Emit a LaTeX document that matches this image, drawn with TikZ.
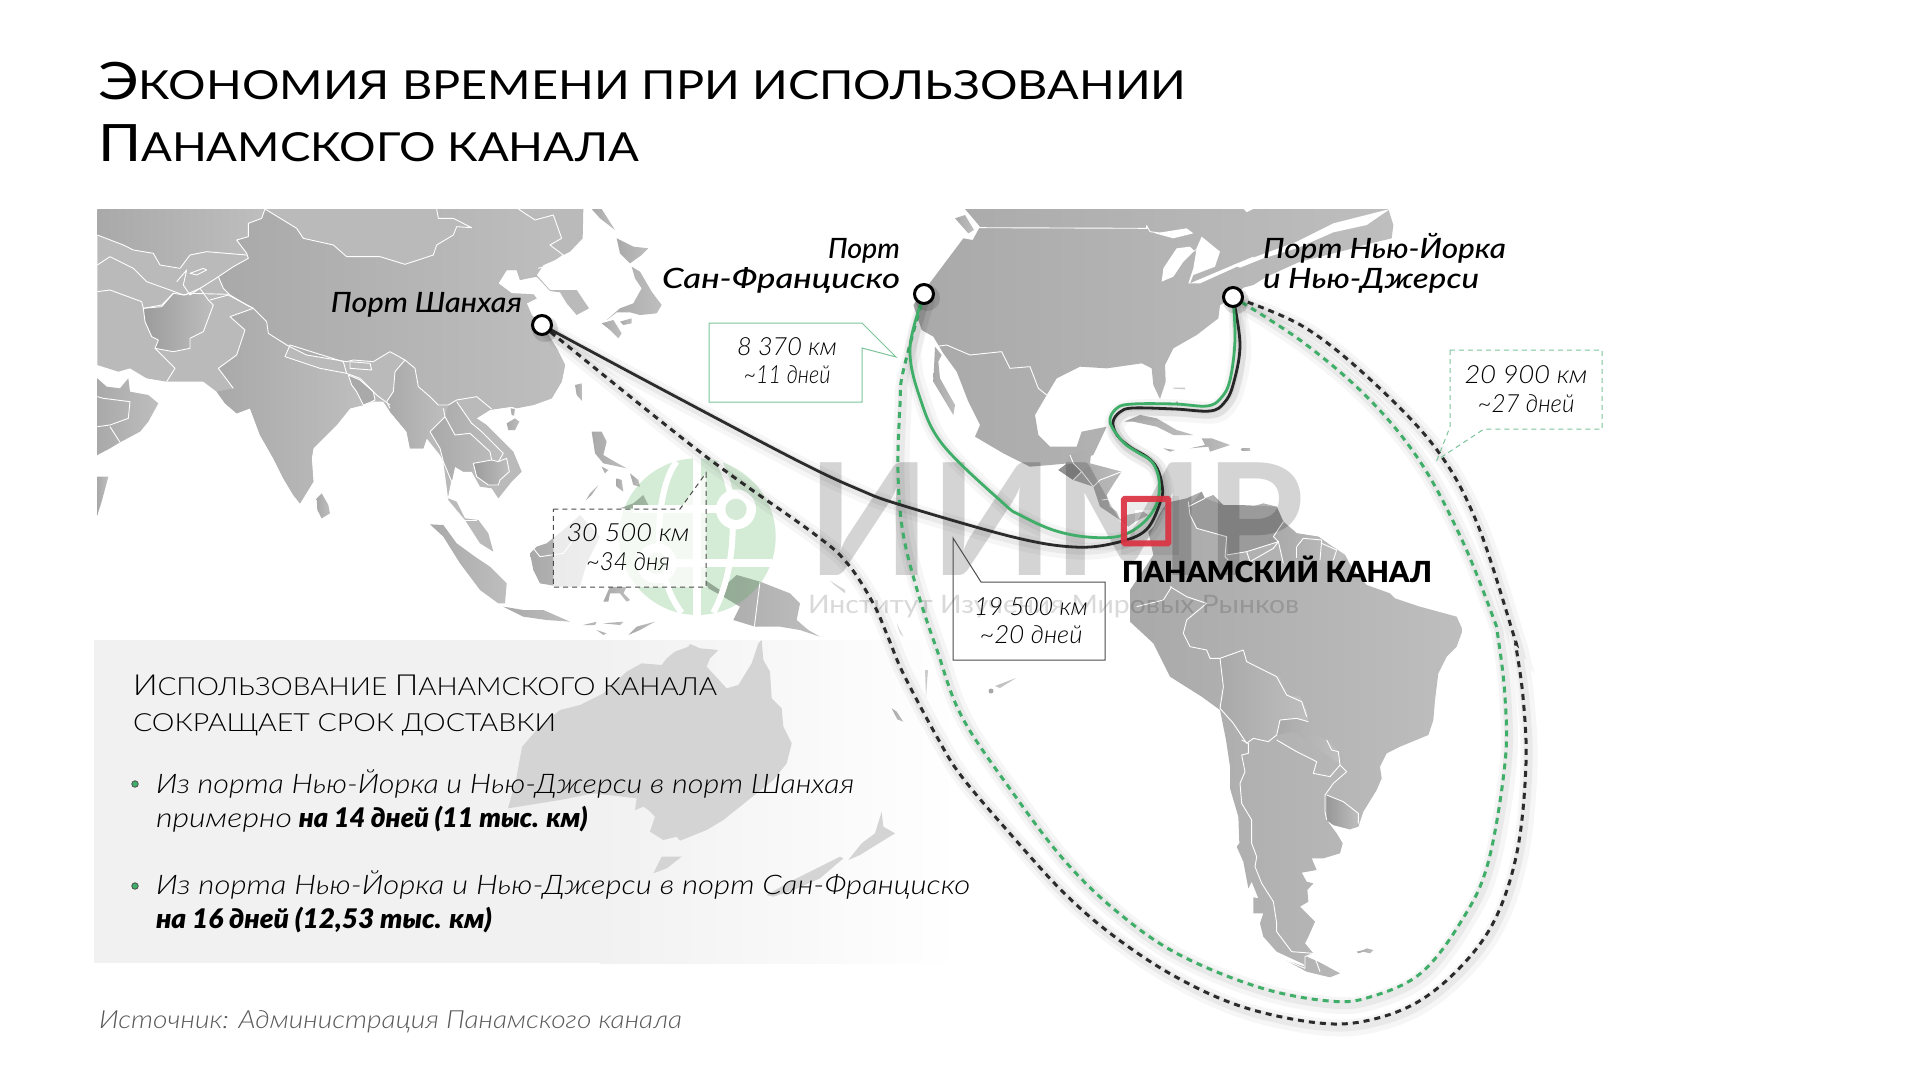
\documentclass[tikz,border=0pt]{standalone}
\usepackage{fontspec}
\usepackage{graphicx}
\setmainfont{Lato}
\newfontfamily\lightf{Lato Light}
\newfontfamily\medf{Lato Medium}
\pgfdeclarelayer{map}
\pgfdeclarelayer{wm}
\pgfdeclarelayer{routes}
\pgfsetlayers{map,wm,routes,main}
\definecolor{mapD}{HTML}{A9A9A9}
\definecolor{mapL}{HTML}{BEBEBE}
\definecolor{mapDk}{HTML}{929292}
\definecolor{rtG}{HTML}{3FAE68}
\definecolor{boxG}{HTML}{7CC49A}
\definecolor{rtK}{HTML}{2B2B2B}
\definecolor{canalR}{HTML}{DC3343}
\definecolor{ausG}{HTML}{D4D4D4}
\definecolor{pan}{HTML}{F1F1F1}
\definecolor{glb}{HTML}{3FA548}
\newcommand\fw[2]{\resizebox{#1pt}{\height}{#2}}
\newcommand\fsz[1]{\fontsize{#1}{#1}\selectfont}
\tikzset{
 land/.style={left color=mapD,right color=mapL,draw=none},
 bord/.style={draw=white,line width=.9pt,line join=round,fill=none},
 txt/.style={inner sep=0pt,outer sep=0pt,anchor=base west,text=black},
 txtr/.style={inner sep=0pt,outer sep=0pt,anchor=base east,text=black},
 txtc/.style={inner sep=0pt,outer sep=0pt,anchor=base,text=black},
 port/.style={circle,draw=black,fill=white,line width=3pt,minimum size=19pt,inner sep=0pt},
 shad/.style={preaction={draw=black,draw opacity=.035,line width=17pt,solid,transform canvas={xshift=3pt,yshift=-4pt}},
              preaction={draw=black,draw opacity=.05,line width=9pt,solid,transform canvas={xshift=2pt,yshift=-3pt}}},
 rK/.style={draw=rtK,line width=2.8pt,line cap=round,shad},
 rG/.style={draw=rtG,line width=2.8pt,line cap=round,shad},
 dK/.style={draw=rtK,line width=3pt,dash pattern=on 6pt off 5pt,shad},
 dG/.style={draw=rtG,line width=3pt,dash pattern=on 6pt off 5pt,shad},
 rt/.style={smooth,tension=.6},
}
\begin{document}
\begin{tikzpicture}[x=1pt,y=-1pt]
\useasboundingbox (0,0) rectangle (1921,1081);

% ---------- map layer
\begin{pgfonlayer}{map}
\fill[white] (0,0) rectangle (1921,1081);
% panel
\fill[pan] (94,640) rectangle (600,963);
\shade[left color=pan,right color=white] (600,640) rectangle (960,963);

% Asia (zoom 6 frame)
\begin{scope}[shift={(90,205)},scale=1/3]
\path[fill=mapL!80!mapD] (22,12)--(1480,12)--(1478,100)--(1440,140)--(1420,150)--(1395,165)--(1360,180)--(1340,210)--(1380,255)--(1420,255)--(1460,255)--(1497,310)--(1460,330)--(1430,295)--(1410,262)--(1380,258)--(1340,215)--(1290,225)--(1280,195)--(1250,195)--(1225,235)--(1265,265)--(1330,268)--(1340,280)--(1310,295)--(1325,330)--(1360,365)--(1400,430)--(1425,480)--(1415,530)--(1385,580)--(1330,600)--(1280,610)--(1265,605)--(1200,615)--(1160,640)--(1190,660)--(1230,700)--(1270,740)--(1295,800)--(1265,830)--(1225,880)--(1205,850)--(1170,845)--(1145,800)--(1120,800)--(1095,785)--(1085,830)--(1075,880)--(1100,890)--(1125,940)--(1165,945)--(1195,985)--(1210,1040)--(1170,1015)--(1125,945)--(1075,885)--(1060,770)--(1050,750)--(1010,700)--(1000,730)--(960,730)--(950,680)--(900,620)--(880,590)--(850,590)--(820,600)--(780,610)--(740,660)--(670,730)--(665,760)--(670,830)--(630,895)--(610,870)--(580,820)--(550,760)--(510,690)--(480,610)--(440,625)--(405,595)--(380,560)--(340,530)--(230,530)--(170,520)--(120,490)--(85,500)--(22,480)--cycle;
% China
\path[land] (525,12)--(515,40)--(475,55)--(475,95)--(440,105)--(470,145)--(475,160)--(430,185)--(385,215)--(400,250)--(420,270)--(470,300)--(490,310)--(530,350)--(535,385)--(590,420)--(650,450)--(770,470)--(790,465)--(850,470)--(900,440)--(945,465)--(975,490)--(985,545)--(1020,575)--(1045,600)--(1075,600)--(1100,585)--(1160,575)--(1205,612)--(1265,605)--(1330,600)--(1385,580)--(1415,530)--(1425,480)--(1400,430)--(1360,365)--(1325,330)--(1310,295)--(1340,280)--(1330,268)--(1265,265)--(1225,235)--(1250,195)--(1280,195)--(1290,225)--(1340,210)--(1360,180)--(1420,150)--(1380,120)--(1415,100)--(1390,30)--(1335,45)--(1285,12)--(1040,12)--(1045,40)--(1090,40)--(1145,68)--(1100,65)--(1090,90)--(1040,120)--(1030,150)--(945,178)--(870,155)--(770,155)--(730,120)--(640,100)--(620,70)--cycle;
% India
\path[land] (490,310)--(420,335)--(465,375)--(440,450)--(385,490)--(430,550)--(380,560)--(405,595)--(440,625)--(480,610)--(510,690)--(550,760)--(580,820)--(610,870)--(630,895)--(670,830)--(665,760)--(670,730)--(740,660)--(780,610)--(820,600)--(800,560)--(785,540)--(770,505)--(690,490)--(585,455)--(600,420)--(535,385)--(530,350)--cycle;
% Afghanistan
\path[left color=mapD!92!black,right color=mapL] (160,310)--(215,305)--(250,265)--(285,270)--(330,250)--(355,285)--(370,300)--(355,340)--(340,380)--(300,400)--(300,430)--(250,440)--(195,430)--(205,405)--(185,395)--(165,350)--cycle;
% Kazakhstan shaded
\path[left color=mapD,right color=mapL] (22,90)--(100,120)--(130,135)--(190,145)--(210,180)--(270,190)--(300,150)--(350,140)--(470,150)--(440,105)--(475,95)--(475,55)--(515,40)--(525,12)--(22,12)--cycle;
% Myanmar
\path[land] (945,465)--(915,500)--(910,560)--(890,590)--(900,620)--(950,680)--(960,730)--(1000,730)--(1010,700)--(1020,680)--(1065,635)--(1060,610)--(1045,600)--(1020,575)--(985,545)--(975,490)--cycle;
% Thailand-Laos
\path[land] (1075,600)--(1100,585)--(1145,655)--(1175,680)--(1240,745)--(1225,770)--(1205,765)--(1150,775)--(1145,800)--(1120,800)--(1095,785)--(1085,830)--(1060,770)--(1050,730)--(1020,680)--(1065,635)--cycle;
% Cambodia
\path[left color=mapD!92!black,right color=mapL] (1150,775)--(1205,765)--(1225,770)--(1250,760)--(1258,800)--(1230,825)--(1225,840)--(1195,840)--(1160,815)--cycle;
% Bangladesh
\path[fill=mapD] (775,510)--(810,525)--(850,560)--(855,585)--(845,590)--(820,600)--(800,560)--(785,540)--cycle;
% Arabia
\path[land] (22,520)--(50,545)--(90,550)--(115,520)--(120,560)--(175,570)--(205,595)--(175,650)--(150,680)--(90,712)--(60,730)--(22,750)--cycle;
\path[land] (22,815)--(55,815)--(35,890)--(22,930)--cycle;
% Sri Lanka
\path[land] (680,880)--(695,865)--(715,900)--(720,925)--(695,940)--(682,915)--cycle;
% borders
\draw[bord] (525,12)--(515,40)--(475,55)--(475,95)--(440,105)--(470,145)--(475,160)--(430,185)--(385,215)--(400,250)--(420,270)--(470,300)--(490,310)--(530,350)--(535,385)--(590,420)--(650,450)--(770,470)--(790,465)--(850,470)--(900,440)--(945,465)--(975,490)--(985,545)--(1020,575)--(1045,600)--(1075,600)--(1100,585)--(1160,575)--(1205,612);
\draw[bord] (525,12)--(620,70)--(640,100)--(730,120)--(770,155)--(870,155)--(945,178)--(1030,150)--(1040,120)--(1090,90)--(1100,65)--(1145,68)--(1090,40)--(1045,40)--(1040,12);
\draw[bord] (1285,12)--(1335,45)--(1390,30)--(1415,100)--(1380,120)--(1420,150);
\draw[bord] (22,90)--(100,120)--(130,135)--(190,145)--(210,180)--(270,190)--(300,150)--(350,140)--(470,150);
\draw[bord] (22,180)--(60,155)--(100,175)--(130,190)--(170,230)--(240,255)--(280,270);
\draw[bord] (22,260)--(60,255)--(155,290)--(160,310)--(215,300)--(250,265);
\draw[bord] (160,310)--(215,305)--(250,265)--(285,270)--(330,250)--(355,285)--(370,300)--(355,340)--(340,380)--(300,400)--(300,430)--(250,440)--(195,430)--(205,405)--(185,395)--(165,350)--cycle;
\draw[bord] (490,310)--(420,335)--(465,375)--(440,450)--(385,490)--(430,550);
\draw[bord] (195,430)--(255,490)--(230,530);
\draw[bord] (300,205)--(340,190)--(350,195)--(320,210)--cycle;
\draw[bord] (260,230)--(290,195)--(280,240)--(300,270)--(330,250)--(370,225)--(385,215);
\draw[bord] (280,270)--(300,265)--(415,268);
\draw[bord] (360,285)--(415,270)--(490,310);
\draw[bord] (600,420)--(760,470)--(770,505)--(690,490)--(585,455)--cycle;
\draw[bord] (780,470)--(840,475)--(845,495)--(780,490)--cycle;
\draw[bord] (770,505)--(810,520)--(860,570)--(900,600);
\draw[bord] (775,510)--(810,525)--(850,560)--(855,585)--(845,590)--(820,600)--(800,560)--(785,540)--cycle;
\draw[bord] (945,465)--(915,500)--(910,560)--(890,590)--(900,610);
\draw[bord] (1060,610)--(1065,635)--(1020,680)--(1050,730)--(1060,770)--(1085,830)--(1075,880);
\draw[bord] (1100,590)--(1145,655)--(1175,680)--(1240,745)--(1225,770);
\draw[bord] (1065,635)--(1095,690)--(1140,685)--(1200,740)--(1205,765);
\draw[bord] (1150,775)--(1205,765)--(1225,770)--(1250,760)--(1258,800)--(1230,825)--(1225,840)--(1195,840)--(1160,815)--cycle;
\draw[bord] (1420,150)--(1380,180)--(1345,190);
\draw[bord] (1125,945)--(1160,945);
\draw[bord] (22,575)--(40,580)--(120,590)--(115,640)--(60,660)--(22,665);
\draw[bord] (60,665)--(90,712);
\end{scope}

% Japan etc (zoom 7 frame)
\begin{scope}[shift={(400,205)},scale=1/3]
\path[land] (575,12)--(605,12)--(645,75)--(600,40)--cycle;
\path[land] (650,100)--(700,125)--(745,130)--(725,150)--(690,175)--(660,145)--cycle;
\path[land] (695,185)--(720,200)--(755,260)--(785,300)--(770,325)--(720,330)--(690,322)--(650,322)--(620,345)--(660,310)--(700,295)--(725,250)--(705,220)--cycle;
\path[land] (605,355)--(640,345)--(665,385)--(655,400)--(630,375)--cycle;
\path[land] (660,350)--(695,340)--(695,355)--(670,360)--cycle;
\path[land] (525,540)--(545,535)--(548,590)--(530,570)--cycle;
\path[land] (320,655)--(345,640)--(358,650)--(345,675)--(325,675)--cycle;
\path[land] (332,610)--(345,612)--(342,632)--(335,630)--cycle;
\path[land] (575,680)--(605,680)--(620,710)--(610,750)--(635,765)--(680,790)--(610,775)--(585,745)--cycle;
\path[land] (605,785)--(625,795)--(615,805)--cycle;
\path[land] (650,820)--(665,825)--(670,860)--(650,845)--cycle;
\path[land] (690,805)--(715,825)--(720,845)--(700,840)--cycle;
\end{scope}

% Indonesia etc (zoom 8 frame)
\begin{scope}[shift={(400,430)},scale=1/3]
\path[land] (90,283)--(130,285)--(170,340)--(225,380)--(270,410)--(320,460)--(315,520)--(295,520)--(240,480)--(180,400)--(130,320)--cycle;
\path[land] (310,530)--(370,540)--(430,540)--(510,575)--(440,570)--(370,560)--cycle;
\path[land] (390,370)--(410,350)--(440,340)--(490,300)--(540,255)--(600,320)--(560,400)--(540,470)--(480,470)--(420,460)--(400,420)--cycle;
\draw[bord] (400,355)--(420,380)--(490,370)--(520,330);
\path[land] (610,515)--(630,470)--(680,470)--(670,490)--(690,510)--(680,515)--(660,490)--(630,490)--(625,515)--cycle;
\path[land] (660,235)--(700,220)--(730,195)--(750,235)--cycle;
\path[land] (570,190)--(595,165)--(575,195)--(558,210)--cycle;
\path[land] (550,585)--(590,575)--(585,585)--cycle;
\path[land] (610,580)--(670,575)--(660,585)--cycle;
\path[land] (590,600)--(620,610)--(610,615)--cycle;
\path[land] (685,615)--(710,590)--(765,575)--(720,600)--cycle;
\path[land] (915,450)--(960,480)--(1010,435)--(1080,455)--(1170,490)--(1200,520)--(1190,570)--(1225,600)--(1260,620)--(1200,600)--(1140,590)--(1065,590)--(1000,570)--(1020,530)--(970,500)--(925,475)--cycle;
\draw[bord] (1080,455)--(1063,590);
\path[fill=mapD!50!white] (1290,452)--(1335,480)--(1335,490)--(1300,462)--cycle;
\path[fill=mapD!50!white] (1490,580)--(1510,620)--(1500,610)--cycle;
\end{scope}

% Australia & NZ (zoom 12 frame)
\begin{scope}[shift={(560,630)},scale=1/3]
\path[fill=ausG] (-63,291)--(0,240)--(60,225)--(130,190)--(200,125)--(245,100)--(305,105)--(320,85)--(345,65)--(385,50)--(390,42)--(420,55)--(475,60)--(450,85)--(440,110)--(500,175)--(535,165)--(575,100)--(595,40)--(605,30)--(610,90)--(630,125)--(635,205)--(665,235)--(670,290)--(695,340)--(680,400)--(640,450)--(565,510)--(490,570)--(440,600)--(360,632)--(350,620)--(310,630)--(270,605)--(285,560)--(265,540)--(250,530)--(225,540)--(230,505)--(100,490)--(0,510)--(-156,535)--(-132,450)--(-114,351)--cycle;
\path[fill=ausG] (280,730)--(305,680)--(365,680)--(320,715)--cycle;
\path[fill=ausG] (620,795)--(700,750)--(840,680)--(850,685)--(780,745)--(700,780)--(640,800)--cycle;
\path[fill=ausG] (865,690)--(905,640)--(945,610)--(965,545)--(970,590)--(1005,610)--(940,650)--(900,675)--cycle;
\path[land] (995,235)--(1010,245)--(1030,275)--(1012,268)--cycle;
\end{scope}
\fill[mapD] (991,691) circle (2.5pt);
\fill[mapD!70!white] (995,686)--(1016,678)--(1000,688)--cycle;
\fill[mapD!60!white] (925,670)--(928,670)--(926,697)--cycle;

% North America (zoom 9 frame)
\begin{scope}[shift={(900,205)},scale=1/3]
\path[land] (195,12)--(1030,12)--(1040,22)--(1060,12)--(1465,12)--(1480,60)--(1475,100)--(1400,118)--(1340,135)--(1200,170)--(1100,215)--(1060,240)--(1030,248)--(1000,280)--(960,300)--(955,340)--(890,390)--(820,430)--(795,480)--(797,530)--(780,582)--(760,540)--(755,490)--(725,475)--(620,490)--(540,485)--(470,520)--(440,570)--(405,630)--(415,690)--(450,725)--(530,725)--(545,680)--(620,665)--(580,750)--(505,775)--(450,780)--(390,785)--(310,745)--(225,695)--(240,660)--(205,590)--(170,500)--(130,445)--(100,395)--(65,375)--(40,300)--(100,220)--(190,100)--(218,105)--(240,65)--cycle;
\path[land] (165,40)--(195,30)--(222,75)--(205,85)--cycle;
% Baja
\path[land] (105,425)--(125,450)--(115,470)--(120,520)--(165,600)--(160,630)--(130,580)--(100,530)--cycle;
% lakes, St Lawrence
\fill[white] (765,85)--(860,70)--(880,85)--(820,100)--cycle;
\fill[white] (785,230)--(790,190)--(830,130)--(870,125)--(885,140)--(905,95)--(960,140)--(945,185)--(880,210)--(870,235)--(1000,180)--(1060,155)--(1060,162)--(1000,190)--(900,235)--(865,235)--(880,190)--(890,130)--(850,170)--(820,215)--cycle;
\fill[white] (1000,180)--(1190,110)--(1300,55)--(1470,12)--(1400,60)--(1300,82)--(1190,130)--(1090,160)--(1020,188)--cycle;
\draw[bord] (235,68)--(740,70)--(740,62)--(750,80)--(820,90);
\draw[bord] (105,425)--(140,420)--(210,450)--(305,440)--(330,490)--(390,485)--(415,550)--(440,570);
% Caribbean
\path[land] (672,650)--(720,630)--(770,640)--(830,675)--(880,690)--(820,690)--(770,665)--(700,650)--cycle;
\path[land] (905,700)--(935,700)--(990,720)--(930,740)--(925,725)--(870,730)--(915,720)--cycle;
\path[land] (790,730)--(825,735)--(810,740)--cycle;
\path[land] (1025,730)--(1050,730)--(1050,735)--(1025,735)--cycle;
\path[fill=mapD!60!white] (820,548)--(855,548)--(855,553)--(820,551)--cycle;
\path[fill=mapD] (828,590)--(834,590)--(832,600)--cycle;
\end{scope}

% South & Central America (zoom 10 frame)
\begin{scope}[shift={(1020,430)},scale=1/3]
\path[land] (150,75)--(215,55)--(210,100)--(305,125)--(285,155)--(260,195)--(270,230)--(290,245)--(300,268)--(320,255)--(370,245)--(385,255)--(345,275)--(325,290)--(300,270)--(240,230)--(220,170)--(160,150)--(115,120)--(135,105)--cycle;
\path[fill=mapDk] (115,120)--(135,105)--(160,100)--(185,125)--(160,150)--cycle;
\path[land] (185,125)--(205,110)--(305,125)--(240,165)--(220,170)--cycle;
\draw[bord] (150,75)--(160,100)--(185,125)--(160,150);
\draw[bord] (185,125)--(220,170)--(240,150)--(305,125);
\draw[bord] (245,210)--(285,205);
\draw[bord] (300,268)--(300,245);
\path[land] (385,305)--(400,290)--(420,250)--(440,220)--(455,215)--(500,205)--(545,185)--(530,215)--(540,250)--(555,205)--(580,195)--(610,225)--(660,225)--(680,235)--(730,220)--(770,230)--(790,275)--(830,310)--(895,320)--(930,345)--(975,375)--(1000,420)--(1040,465)--(1110,490)--(1125,505)--(1200,530)--(1310,560)--(1328,600)--(1310,650)--(1280,680)--(1255,730)--(1245,810)--(1240,870)--(1225,915)--(1140,950)--(1100,970)--(1080,1010)--(1085,1045)--(1070,1080)--(1030,1145)--(1015,1190)--(990,1198)--(940,1185)--(920,1170)--(950,1210)--(968,1240)--(960,1270)--(910,1285)--(875,1285)--(890,1320)--(845,1328)--(860,1355)--(880,1360)--(862,1380)--(865,1415)--(840,1430)--(885,1475)--(865,1520)--(855,1540)--(880,1570)--(860,1580)--(895,1595)--(960,1630)--(930,1642)--(860,1625)--(795,1590)--(855,1610)--(850,1602)--(770,1565)--(730,1520)--(720,1480)--(730,1450)--(700,1450)--(700,1402)--(715,1405)--(695,1355)--(685,1375)--(670,1295)--(650,1250)--(658,1240)--(655,1160)--(630,1075)--(630,1010)--(618,930)--(600,840)--(545,800)--(450,740)--(400,640)--(330,575)--(330,480)--(350,450)--(400,375)--cycle;
% Venezuela
\path[fill=mapD!92!black] (555,205)--(610,225)--(660,225)--(770,230)--(790,275)--(760,320)--(775,335)--(680,365)--(625,375)--(620,320)--(530,295)--(510,255)--(505,230)--(545,185)--cycle;
% Guyanas
\path[land] (790,275)--(830,310)--(895,320)--(930,345)--(975,375)--(960,400)--(900,400)--(830,385)--(790,400)--(780,340)--(760,320)--cycle;
% Bolivia
\path[land] (600,685)--(670,660)--(680,695)--(780,740)--(800,795)--(840,800)--(860,840)--(865,870)--(780,870)--(770,915)--(745,935)--(700,925)--(680,940)--(640,880)--(600,835)--(612,795)--(605,770)--cycle;
% Paraguay
\path[land] (780,870)--(830,865)--(865,875)--(870,910)--(925,930)--(955,965)--(955,1000)--(900,960)--(820,905)--(770,915)--cycle;
\draw[bord] (505,215)--(510,255)--(530,295)--(620,320)--(615,380)--(625,390);
\draw[bord] (555,205)--(505,230);
\draw[bord] (620,375)--(680,365)--(775,335)--(760,320)--(790,275);
\draw[bord] (680,365)--(690,395)--(760,355)--(775,335)--(790,400);
\draw[bord] (830,350)--(850,325)--(905,330)--(900,390);
\draw[bord] (905,340)--(950,360)--(940,390);
\draw[bord] (830,350)--(830,385);
\draw[bord] (450,470)--(500,500)--(560,520)--(500,570)--(490,610)--(510,650)--(560,660)--(570,685)--(600,685)--(670,660)--(680,695)--(770,740)--(800,795)--(845,815)--(860,860);
\draw[bord] (455,470)--(430,510)--(350,530);
\draw[bord] (600,685)--(610,770)--(600,835);
\draw[bord] (600,835)--(640,880)--(680,940)--(700,925)--(745,935)--(770,915)--(780,870)--(830,865)--(865,875);
\end{scope}

% Southern cone (zoom 11 frame)
\begin{scope}[shift={(1120,740)},scale=1/3]
\path[left color=mapD!90!black,right color=mapL] (620,165)--(670,185)--(715,220)--(715,250)--(690,268)--(640,255)--(620,240)--cycle;
\draw[bord] (365,0)--(385,10)--(385,40)--(365,45)--(375,95)--(360,130)--(365,190)--(395,240)--(395,310)--(410,350)--(405,380)--(425,430)--(460,485)--(470,550)--(470,575)--(515,635)--(580,640);
\draw[bord] (470,0)--(530,35)--(590,65)--(580,100)--(630,110)--(660,75)--(680,95)--(640,130)--(615,165);
\draw[bord] (620,165)--(670,185)--(715,220)--(715,250);
\draw[bord] (615,165)--(615,215)--(620,240);
\draw[bord] (620,0)--(635,30)--(655,35)--(660,75);
\draw[bord] (495,660)--(555,685)--(555,650)--(580,640)--(600,695);
\path[land] (710,635)--(730,630)--(740,625)--(760,630)--(750,640)--(730,635)--(715,640)--cycle;
\end{scope}
\end{pgfonlayer}

% ---------- watermark layer
\begin{pgfonlayer}{wm}
\begin{scope}[shift={(400,430)},scale=1/3]
\fill[glb,fill opacity=.22] (892,320) circle (235pt);
\draw[white,line width=8pt] (892,85)--(892,555);
\draw[white,line width=8pt] (700,238)--(950,238);
\draw[white,line width=8pt] (800,400)--(1115,400);
\draw[white,line width=6pt] (830,95) .. controls (770,170) and (745,420) .. (845,548);
\draw[white,line width=6pt] (955,95) .. controls (1010,170) and (1020,400) .. (940,548);
\fill[white] (1008,238) circle (60pt);
\fill[white] (770,400) circle (60pt);
\fill[glb!22!white] (1008,238) circle (32pt);
\fill[glb!22!white] (770,400) circle (32pt);
\end{scope}
\node[txt,text=black,text opacity=.17,font=\bfseries\fsz{156}] (wmBig) at (807,575) {\fw{497}{ИИМР}};
\node[txt,text=black,text opacity=.15,font=\fsz{25.5}] (wmSub) at (808,613) {\fw{491}{Институт Изучения Мировых Рынков}};
\end{pgfonlayer}

% ---------- nodes
\node[port] (portS) at (542,325) {};
\node[port] (portF) at (924,294) {};
\node[port] (portN) at (1233,297) {};
\node[draw=canalR,draw opacity=.92,line width=6pt,minimum width=44.5pt,minimum height=44.5pt,inner sep=0pt,rounded corners=1pt] (canal) at (1146.2,521.2) {};

% title
\node[txt,font=\fsz{40}] (t1) at (98,99.5) {\fw{1088}{{\fsz{51.5}Э}КОНОМИЯ ВРЕМЕНИ ПРИ ИСПОЛЬЗОВАНИИ}};
\node[txt,font=\fsz{40}] (t2) at (98,161.7) {\fw{541}{{\fsz{51.5}П}АНАМСКОГО КАНАЛА}};

% port labels
\node[txtr,font=\medf\itshape\fsz{28}] (lS) at (522,312) {\fw{191}{Порт Шанхая}};
\node[txtr,font=\medf\itshape\fsz{28}] (lF1) at (900,258) {\fw{72}{Порт}};
\node[txtr,font=\medf\itshape\fsz{28}] (lF2) at (900,288) {\fw{238}{Сан-Франциско}};
\node[txt,font=\medf\itshape\fsz{28}] (lN1) at (1263,258) {\fw{243}{Порт Нью-Йорка}};
\node[txt,font=\medf\itshape\fsz{28}] (lN2) at (1263,288) {\fw{216}{и Нью-Джерси}};
\node[txt,font=\medf\bfseries\fsz{29}] (lC) at (1122,582) {\fw{310}{ПАНАМСКИЙ КАНАЛ}};

% callouts
\draw[boxG,line width=1pt,fill=white] (709,323)--(862,323)--(896,357)--(862,348)--(862,402)--(709,402)--cycle;
\node[txtc,font=\lightf\itshape\fsz{25}] (c1a) at (787,355) {\fw{100}{8 370 км}};
\node[txtc,font=\lightf\itshape\fsz{25}] (c1b) at (787,383) {\fw{87}{\textasciitilde11 дней}};

\draw[black!70,line width=1pt,dash pattern=on 5pt off 4pt,fill=white,fill opacity=.75] (553.3,509)--(680,509)--(706,473)--(706,587)--(553.3,587)--cycle;
\node[txtc,font=\lightf\itshape\fsz{25}] (c2a) at (628,541.7) {\fw{123}{30 500 км}};
\node[txtc,font=\lightf\itshape\fsz{25}] (c2b) at (628,570) {\fw{84}{\textasciitilde34 дня}};

\draw[black!70,line width=1pt] (953,660)--(953,538)--(981,582)--(1105,582)--(1105,660)--cycle;
\node[txtc,font=\lightf\itshape\fsz{25}] (c3a) at (1031,615) {\fw{114}{19 500 км}};
\node[txtc,font=\lightf\itshape\fsz{25}] (c3b) at (1031,643) {\fw{103}{\textasciitilde20 дней}};

\draw[boxG,line width=1pt,dash pattern=on 5pt off 4pt] (1450,350)--(1450,427)--(1437,460)--(1484,429)--(1602,429)--(1602,350)--cycle;
\node[txtc,font=\lightf\itshape\fsz{25}] (c4a) at (1526,383) {\fw{123}{20 900 км}};
\node[txtc,font=\lightf\itshape\fsz{25}] (c4b) at (1526,412.5) {\fw{97}{\textasciitilde27 дней}};

% ---------- routes
\begin{pgfonlayer}{routes}
\draw[dK] plot[rt] coordinates {(portS.center) (700,452) (813,533) (847,563) (873,603) (888,637) (903,673) (937,737) (962,777) (1013,837) (1064,893) (1115,937) (1176,977) (1243,1007) (1319,1023) (1370,1020) (1421,1000) (1467,960) (1498,913) (1518,847) (1526,763) (1523,697) (1516,647) (1513,633) (1477,523) (1437,450) (1373,382) (1304,327) (portN.center)};
\draw[dG] plot[rt] coordinates {(portF.center) (903,372) (900,405) (898,472) (903,533) (918,593) (937,650) (962,717) (1013,793) (1064,860) (1115,910) (1176,953) (1258,987) (1329,1001) (1370,997) (1421,973) (1462,920) (1488,863) (1505,763) (1505,697) (1498,637) (1493,617) (1462,540) (1421,463) (1370,400) (1304,343) (portN.center)};
\draw[rK] plot[rt] coordinates {(portS.center) (667,392) (800,462) (860,490) (901,505) (1013,537) (1074,547) (1115,543) (1146,530) (1161,500) (1162,485) (1157,468) (1147,457) (1130,447) (1117,435) (1113,422) (1120,412) (1133,408) (1175,409) (1210,411) (1224,403) (1233,385) (1240,345) (portN.center)};
\draw[rG] plot[rt] coordinates {(portF.center) (910,348) (920,398) (943,445) (1003,503) (1020,515) (1053,530) (1087,537) (1120,536) (1143,523) (1157,503) (1159,480) (1152,462) (1137,452) (1123,442) (1110,422) (1117,408) (1133,404) (1175,404) (1207,406) (1221,398) (1230,380) (1235,340) (portN.center)};
% shadows of ports and canal
\fill[black,fill opacity=.12] (545,329) circle (13pt);
\fill[black,fill opacity=.12] (927,298) circle (13pt);
\fill[black,fill opacity=.12] (1236,301) circle (13pt);
\draw[black,draw opacity=.07,line width=14pt] (1128,503) rectangle (1172,548);
\end{pgfonlayer}

% panel text
\node[txt,font=\lightf\fsz{25}] (h1) at (133,695) {\fw{584}{{\fsz{29}И}СПОЛЬЗОВАНИЕ {\fsz{29}П}АНАМСКОГО КАНАЛА}};
\node[txt,font=\lightf\fsz{25}] (h2) at (133,731) {\fw{423}{СОКРАЩАЕТ СРОК ДОСТАВКИ}};
\node[circle,fill=rtG,draw=black!70,line width=.8pt,minimum size=6.5pt,inner sep=0pt] (b1) at (135,784) {};
\node[circle,fill=rtG,draw=black!70,line width=.8pt,minimum size=6.5pt,inner sep=0pt] (b2) at (135,886) {};
\node[txt,font=\lightf\itshape\fsz{27}] (p1) at (156,793) {\fw{698}{Из порта Нью-Йорка и Нью-Джерси в порт Шанхая}};
\node[txt,font=\lightf\itshape\fsz{27}] (p2) at (156,827) {\fw{136}{примерно} \fw{289}{\medf\bfseries\itshape на 14 дней (11 тыс. км)}};
\node[txt,font=\lightf\itshape\fsz{27}] (p3) at (156,894) {\fw{814}{Из порта Нью-Йорка и Нью-Джерси в порт Сан-Франциско}};
\node[txt,font=\medf\bfseries\itshape\fsz{27}] (p4) at (156,928) {\fw{336}{на 16 дней (12,53 тыс. км)}};
\node[txt,text=black!65,font=\lightf\itshape\fsz{25}] (src) at (99,1028) {\fw{583}{Источник: Администрация Панамского канала}};
\end{tikzpicture}
\end{document}
